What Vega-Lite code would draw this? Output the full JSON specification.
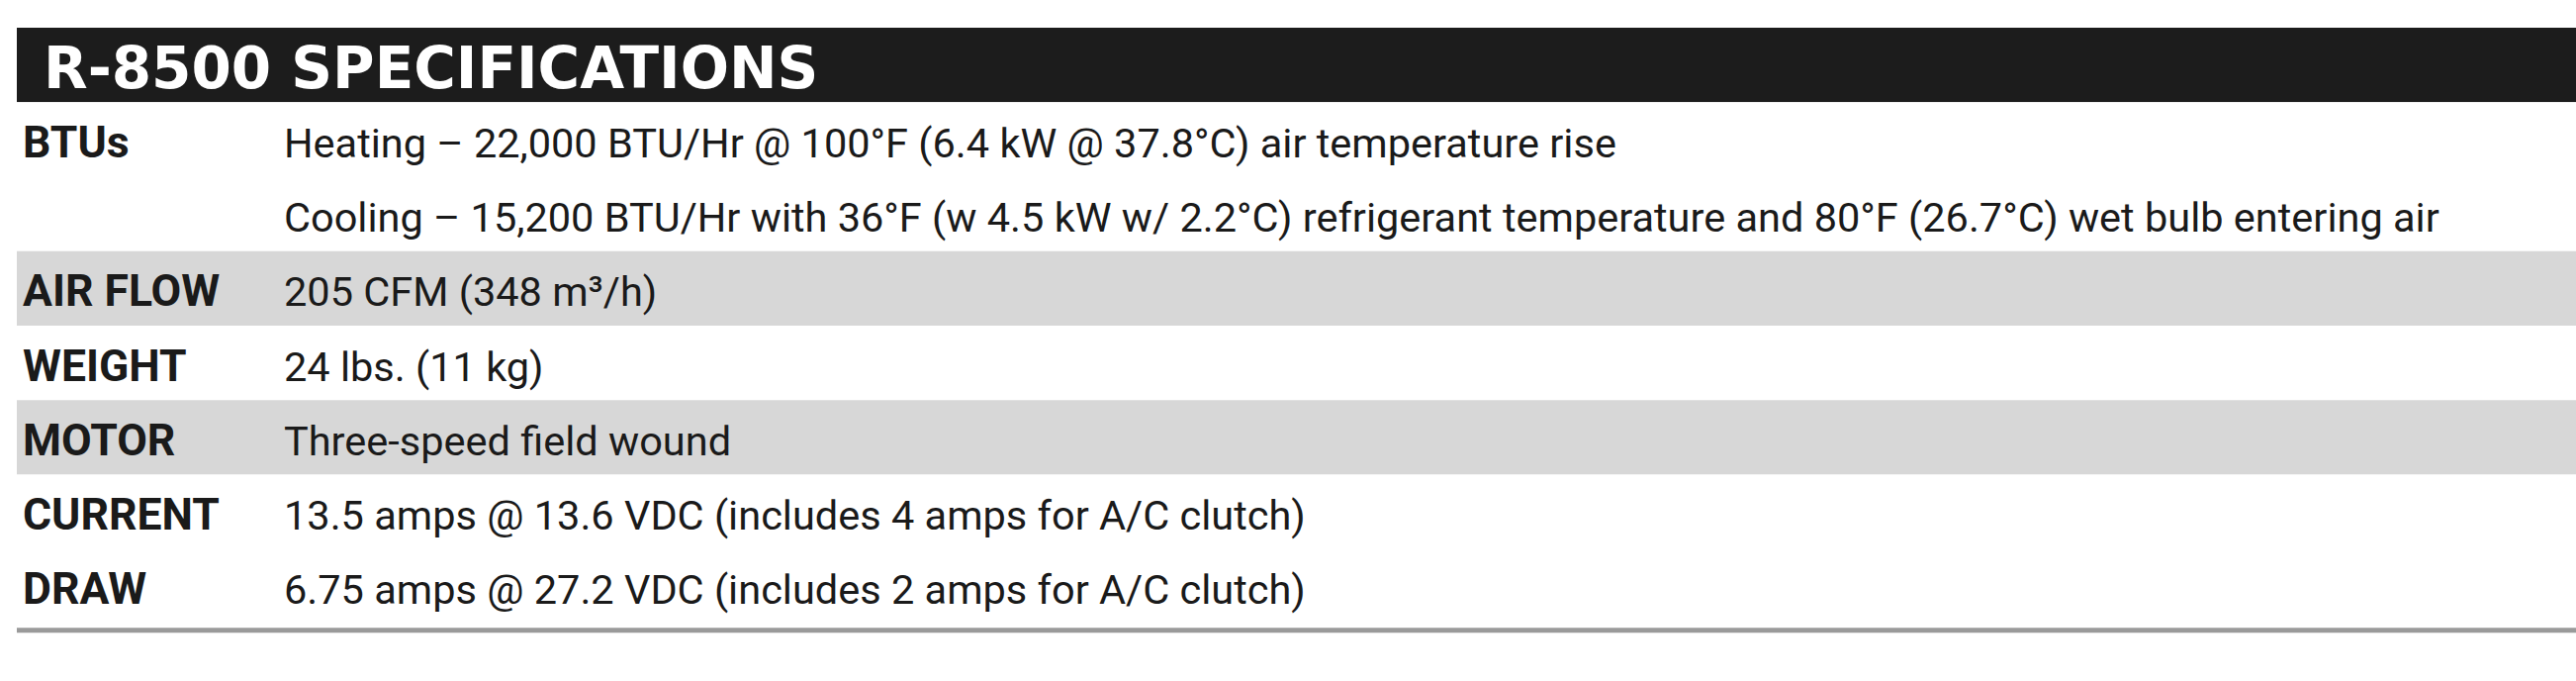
{
  "$schema": "https://vega.github.io/schema/vega-lite/v6.json",
  "description": "R-8500 specifications table",
  "autosize": {"type": "none"},
  "padding": {"left": 17, "top": 28, "right": 0, "bottom": 58},
  "width": 2587,
  "height": 602,
  "background": "#ffffff",
  "config": {"view": {"stroke": null}},
  "data": {
    "values": [
      {"line": "L0", "section": "HEADER", "label": "", "text": "R-8500 SPECIFICATIONS"},
      {"line": "L1", "section": "BTUs", "label": "BTUs", "text": "Heating – 22,000 BTU/Hr @ 100°F (6.4 kW @ 37.8°C) air temperature rise"},
      {"line": "L2", "section": "BTUs", "label": "", "text": "Cooling – 15,200 BTU/Hr with 36°F (w 4.5 kW w/ 2.2°C) refrigerant temperature and 80°F (26.7°C) wet bulb entering air"},
      {"line": "L3", "section": "AIR FLOW", "label": "AIR FLOW", "text": "205 CFM (348 m³/h)"},
      {"line": "L4", "section": "WEIGHT", "label": "WEIGHT", "text": "24 lbs. (11 kg)"},
      {"line": "L5", "section": "MOTOR", "label": "MOTOR", "text": "Three-speed field wound"},
      {"line": "L6", "section": "CURRENT DRAW", "label": "CURRENT", "text": "13.5 amps @ 13.6 VDC (includes 4 amps for A/C clutch)"},
      {"line": "L7", "section": "CURRENT DRAW", "label": "DRAW", "text": "6.75 amps @ 27.2 VDC (includes 2 amps for A/C clutch)"}
    ]
  },
  "encoding": {
    "y": {
      "field": "line",
      "type": "nominal",
      "scale": {"type": "band", "domain": ["L0", "L1", "L2", "L3", "L4", "L5", "L6", "L7"], "paddingInner": 0, "paddingOuter": 0},
      "axis": null
    }
  },
  "layer": [
    {
      "mark": {"type": "rect"},
      "encoding": {
        "color": {
          "field": "section",
          "type": "nominal",
          "scale": {
            "domain": ["HEADER", "BTUs", "AIR FLOW", "WEIGHT", "MOTOR", "CURRENT DRAW"],
            "range": ["#1c1c1c", "#ffffff", "#d7d7d7", "#ffffff", "#d7d7d7", "#ffffff"]
          },
          "legend": null
        }
      }
    },
    {
      "transform": [{"filter": "datum.section == 'HEADER'"}],
      "mark": {"type": "text", "align": "left", "baseline": "alphabetic", "dx": 21, "dy": 23, "font": "DejaVu Sans", "fontWeight": "bold", "fontSize": 58, "color": "#ffffff"},
      "encoding": {
        "x": {"datum": "label", "type": "nominal", "scale": {"type": "point", "domain": ["label", "value"], "range": [6, 270], "padding": 0}, "axis": null},
        "text": {"field": "text"}
      }
    },
    {
      "transform": [{"filter": "datum.section != 'HEADER'"}],
      "mark": {"type": "text", "align": "left", "baseline": "alphabetic", "dy": 18, "font": "Roboto", "fontWeight": "bold", "fontSize": 44.5, "color": "#1a1a1a"},
      "encoding": {
        "x": {"datum": "label", "type": "nominal", "axis": null},
        "text": {"field": "label"}
      }
    },
    {
      "transform": [{"filter": "datum.section != 'HEADER'"}],
      "mark": {"type": "text", "align": "left", "baseline": "alphabetic", "dy": 18, "font": "Roboto", "fontSize": 41.5, "color": "#1a1a1a"},
      "encoding": {
        "x": {"datum": "value", "type": "nominal", "axis": null},
        "text": {"field": "text"}
      }
    },
    {
      "transform": [{"filter": "datum.line == 'L7'"}],
      "mark": {"type": "rule", "color": "#9a9a9a", "strokeWidth": 5},
      "encoding": {
        "yOffset": {"value": 82}
      }
    }
  ]
}
